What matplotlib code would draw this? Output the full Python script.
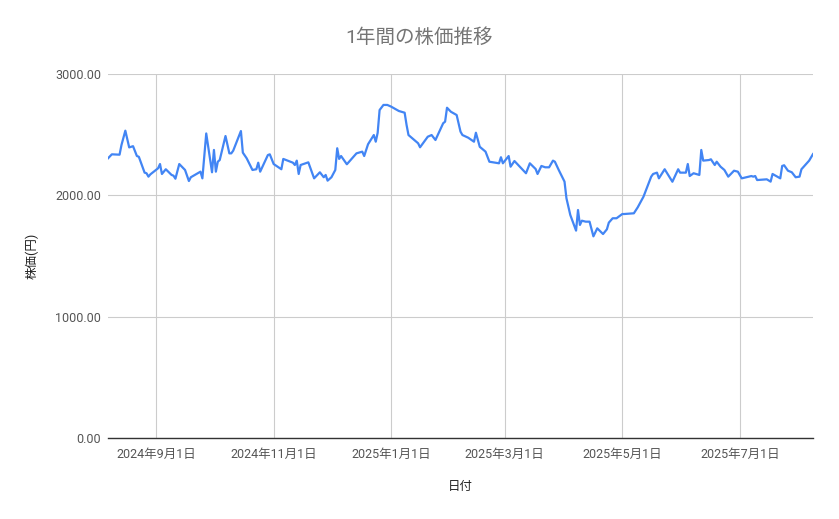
import numpy as np
import pandas as pd
import matplotlib
matplotlib.use("Agg")
import matplotlib.pyplot as plt
import matplotlib.dates as mdates
from matplotlib.ticker import FixedLocator, FixedFormatter

plt.rcParams['font.family'] = ['Roboto', 'Noto Sans CJK JP', 'DejaVu Sans']

# ---- data ----
dates = [
    "2024-08-07", "2024-08-09", "2024-08-13", "2024-08-14", "2024-08-16", "2024-08-18",
    "2024-08-20", "2024-08-22", "2024-08-23", "2024-08-26", "2024-08-27", "2024-08-28",
    "2024-08-29", "2024-09-02", "2024-09-03", "2024-09-04", "2024-09-06", "2024-09-09",
    "2024-09-10", "2024-09-11", "2024-09-13", "2024-09-16", "2024-09-18", "2024-09-19",
    "2024-09-24", "2024-09-25", "2024-09-27", "2024-09-30", "2024-10-01", "2024-10-02",
    "2024-10-03", "2024-10-04", "2024-10-07", "2024-10-09", "2024-10-10", "2024-10-11",
    "2024-10-15", "2024-10-16", "2024-10-18", "2024-10-21", "2024-10-23", "2024-10-24",
    "2024-10-25", "2024-10-29", "2024-10-30", "2024-11-01", "2024-11-05", "2024-11-06",
    "2024-11-11", "2024-11-12", "2024-11-13", "2024-11-14", "2024-11-15", "2024-11-19",
    "2024-11-22", "2024-11-25", "2024-11-27", "2024-11-28", "2024-11-29", "2024-12-01",
    "2024-12-03", "2024-12-04", "2024-12-05", "2024-12-06", "2024-12-09", "2024-12-14",
    "2024-12-16", "2024-12-17", "2024-12-18", "2024-12-20", "2024-12-23", "2024-12-24",
    "2024-12-25", "2024-12-26", "2024-12-28", "2024-12-30", "2025-01-01", "2025-01-05",
    "2025-01-08", "2025-01-09", "2025-01-10", "2025-01-12", "2025-01-15", "2025-01-16",
    "2025-01-20", "2025-01-22", "2025-01-24", "2025-01-28", "2025-01-29", "2025-01-30",
    "2025-02-01", "2025-02-04", "2025-02-06", "2025-02-07", "2025-02-10", "2025-02-13",
    "2025-02-14", "2025-02-16", "2025-02-19", "2025-02-21", "2025-02-26", "2025-02-27",
    "2025-02-28", "2025-03-03", "2025-03-04", "2025-03-06", "2025-03-12", "2025-03-14",
    "2025-03-17", "2025-03-18", "2025-03-20", "2025-03-22", "2025-03-24", "2025-03-26",
    "2025-03-27", "2025-03-29", "2025-04-01", "2025-04-02", "2025-04-04", "2025-04-07",
    "2025-04-08", "2025-04-09", "2025-04-10", "2025-04-12", "2025-04-14", "2025-04-16",
    "2025-04-18", "2025-04-21", "2025-04-23", "2025-04-24", "2025-04-26", "2025-04-28",
    "2025-05-01", "2025-05-02", "2025-05-07", "2025-05-09", "2025-05-12", "2025-05-16",
    "2025-05-17", "2025-05-19", "2025-05-20", "2025-05-23", "2025-05-27", "2025-05-30",
    "2025-05-31", "2025-06-03", "2025-06-04", "2025-06-05", "2025-06-07", "2025-06-10",
    "2025-06-11", "2025-06-12", "2025-06-15", "2025-06-16", "2025-06-18", "2025-06-19",
    "2025-06-21", "2025-06-23", "2025-06-25", "2025-06-28", "2025-06-30", "2025-07-02",
    "2025-07-07", "2025-07-08", "2025-07-09", "2025-07-10", "2025-07-15", "2025-07-17",
    "2025-07-18", "2025-07-22", "2025-07-23", "2025-07-24", "2025-07-26", "2025-07-28",
    "2025-07-30", "2025-08-01", "2025-08-02", "2025-08-06", "2025-08-08",
]
prices = [
    2305, 2338, 2335, 2415, 2533, 2395,
    2405, 2324, 2318, 2187, 2182, 2154,
    2173, 2223, 2258, 2176, 2215, 2168,
    2162, 2137, 2258, 2209, 2118, 2149,
    2195, 2140, 2510, 2190, 2374, 2195,
    2277, 2291, 2489, 2346, 2346, 2368,
    2530, 2352, 2305, 2209, 2215, 2269,
    2195, 2332, 2338, 2258, 2215, 2300,
    2269, 2250, 2286, 2176, 2250, 2272,
    2140, 2190, 2149, 2168, 2121, 2149,
    2209, 2388, 2300, 2324, 2256, 2346,
    2355, 2360, 2324, 2421, 2497, 2442,
    2516, 2703, 2745, 2745, 2731, 2695,
    2681, 2580, 2497, 2470, 2429, 2396,
    2483, 2497, 2456, 2594, 2607, 2722,
    2689, 2662, 2525, 2497, 2475, 2442,
    2516, 2400, 2360, 2277, 2264, 2314,
    2264, 2324, 2236, 2283, 2182, 2264,
    2217, 2176, 2242, 2231, 2231, 2286,
    2277, 2209, 2113, 1976, 1838, 1709,
    1879, 1756, 1791, 1783, 1783, 1662,
    1728, 1681, 1720, 1775, 1811, 1811,
    1846, 1846, 1852, 1901, 1989, 2154,
    2176, 2187, 2140, 2215, 2112, 2215,
    2187, 2187, 2258, 2159, 2182, 2168,
    2374, 2286, 2291, 2297, 2250, 2277,
    2236, 2209, 2154, 2203, 2195, 2140,
    2159, 2154, 2159, 2126, 2132, 2113,
    2176, 2140, 2242, 2248, 2203, 2190,
    2149, 2154, 2215, 2286, 2340,
]

x_tick_dates = ["2024-09-01", "2024-11-01", "2025-01-01", "2025-03-01", "2025-05-01", "2025-07-01"]
x_tick_labels = ["2024年9月1日", "2024年11月1日", "2025年1月1日", "2025年3月1日", "2025年5月1日", "2025年7月1日"]
y_ticks = [0, 1000, 2000, 3000]
y_tick_labels = ["0.00", "1000.00", "2000.00", "3000.00"]

title = "1年間の株価推移"
x_title = "日付"
y_title = "株価(円)"

# ---- plot ----
d = pd.to_datetime(dates)
fig = plt.figure(figsize=(8.39, 5.19), dpi=100)
ax = fig.add_axes([108 / 839, (519 - 438) / 519, (813 - 108) / 839, (438 - 74) / 519])

ax.plot(d, prices, color="#4285F4", linewidth=1.6, solid_joinstyle="round")

ax.set_xlim(d[0], d[-1])
ax.set_ylim(0, 3000)

tick_nums = mdates.date2num(pd.to_datetime(x_tick_dates))
ax.xaxis.set_major_locator(FixedLocator(tick_nums))
ax.xaxis.set_major_formatter(FixedFormatter(x_tick_labels))
ax.yaxis.set_major_locator(FixedLocator(y_ticks))
ax.yaxis.set_major_formatter(FixedFormatter(y_tick_labels))

ax.grid(True, color="#cccccc", linewidth=0.8)
ax.set_axisbelow(True)
for s in ["top", "right", "left"]:
    ax.spines[s].set_visible(False)
ax.spines["bottom"].set_color("#333333")
ax.spines["bottom"].set_linewidth(1.0)
ax.spines["bottom"].set_zorder(3)

ax.tick_params(axis="both", length=0, labelsize=9, labelcolor="#555555")
ax.tick_params(axis="x", pad=7)
ax.tick_params(axis="y", pad=5)

ax.set_xlabel(x_title, fontsize=9, color="#222222", labelpad=14)
ax.set_ylabel(y_title, fontsize=9, color="#222222", labelpad=12)
fig.suptitle(title, x=0.5, y=1 - 38 / 519, va="center", fontsize=14, color="#757575")

fig.savefig("out.png", dpi=100)
